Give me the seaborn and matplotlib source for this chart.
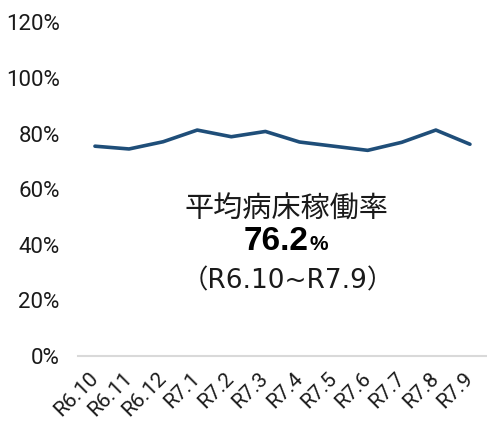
import matplotlib
matplotlib.use("Agg")
import matplotlib.pyplot as plt
import seaborn as sns
import pandas as pd

months = ["R6.10", "R6.11", "R6.12", "R7.1", "R7.2", "R7.3",
          "R7.4", "R7.5", "R7.6", "R7.7", "R7.8", "R7.9"]
rates = [75.5, 74.5, 77.1, 81.3, 78.9, 80.8, 77.0, 75.5, 74.0, 76.9, 81.3, 76.2]
yticks = [0, 20, 40, 60, 80, 100, 120]
title_text = "平均病床稼働率"
avg_text = "76.2"
period_text = "（R6.10~R7.9）"

sns.set_theme(style="white")
plt.rcParams["font.family"] = ["Noto Sans CJK JP", "DejaVu Sans"]

df = pd.DataFrame({"month": months, "rate": rates})

fig = plt.figure(figsize=(4.87, 4.29), dpi=100)
ax = fig.add_axes([0.160, 0.170, 0.840, 0.7776])
sns.lineplot(data=df, x="month", y="rate", sort=False, color="#1F4E79",
             linewidth=2.6, ax=ax)

tick_font = ["Roboto", "DejaVu Sans"]
ax.set_xlim(-0.5, len(months) - 0.5)
ax.set_ylim(0, 120)
ax.set_yticks(yticks)
ax.set_yticklabels([f"{v}%" for v in yticks], family=tick_font,
                   fontsize=16, color="#1a1a1a")
ax.set_xticks(range(len(months)))
ax.set_xticklabels(months, rotation=45, ha="right", va="center",
                   rotation_mode="anchor", family=tick_font,
                   fontsize=15, color="#1a1a1a")
ax.tick_params(axis="x", length=0, pad=14)
ax.tick_params(axis="y", length=0, pad=13)
ax.set_xlabel("")
ax.set_ylabel("")
for s in ["top", "right", "left"]:
    ax.spines[s].set_visible(False)
ax.spines["bottom"].set_color("#d9d9d9")
ax.spines["bottom"].set_linewidth(1.5)
ax.grid(False)

fig.text(286 / 487, 1 - 210 / 429, title_text, ha="center", va="center",
         fontsize=21, color="#1a1a1a")
fig.text(276 / 487, 1 - 250 / 429, avg_text, ha="center", va="baseline",
         fontsize=24, fontweight="bold", color="#000000",
         family=["Liberation Sans", "DejaVu Sans"])
fig.text(319 / 487, 1 - 250 / 429, "%", ha="center", va="baseline",
         fontsize=15, fontweight="bold", color="#000000",
         family=["Liberation Sans", "DejaVu Sans"])
fig.text(288 / 487, 1 - 281 / 429, period_text, ha="center", va="center",
         fontsize=19, color="#1a1a1a", family=["DejaVu Sans", "Noto Sans CJK JP"])

fig.savefig("out.png", dpi=100, facecolor="white")
